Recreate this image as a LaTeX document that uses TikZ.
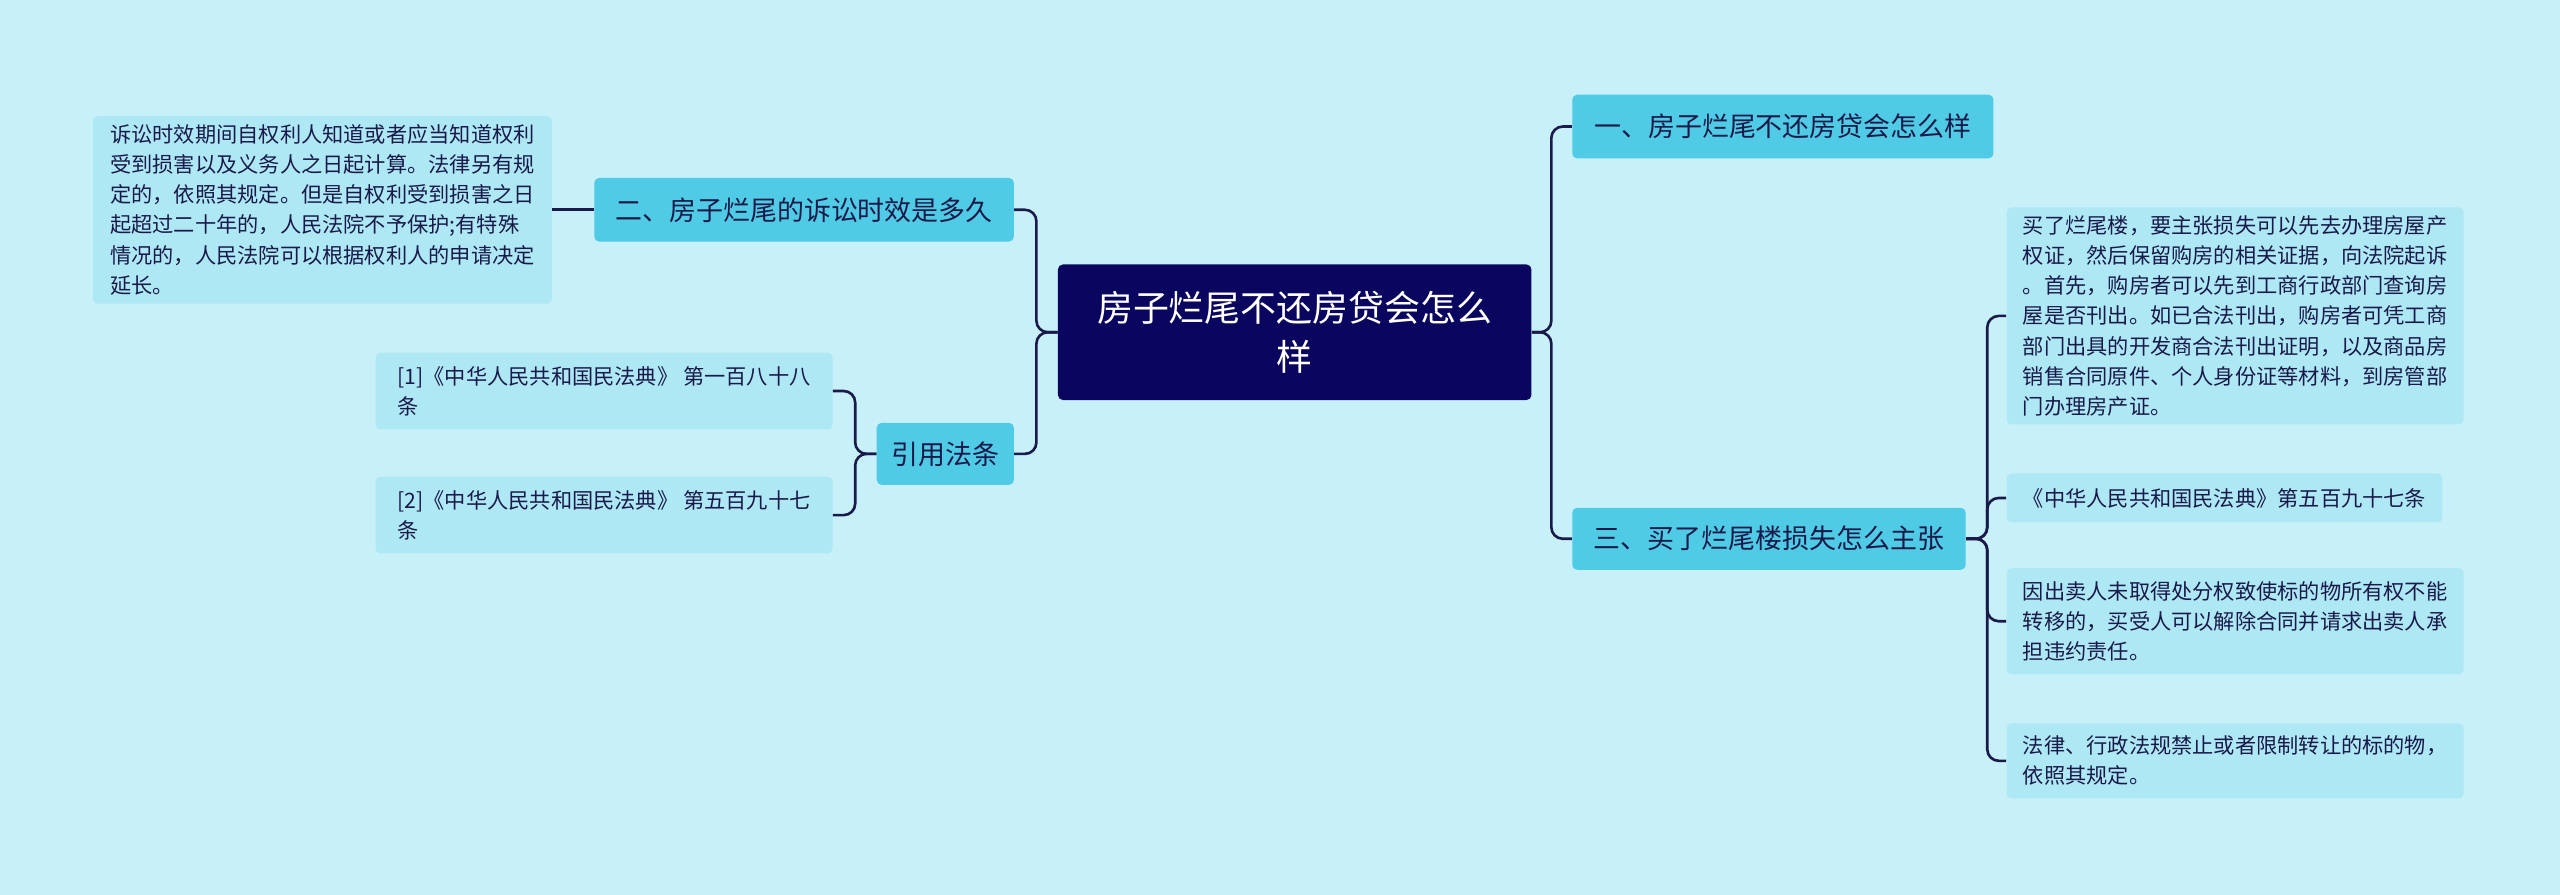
\documentclass[tikz,border=0pt]{standalone}
\usepackage{fontspec}
\setmainfont{Noto Sans CJK SC}
\definecolor{bg}{HTML}{C8F0F8}
\definecolor{navy}{HTML}{0A0660}
\definecolor{br}{HTML}{4FCBE6}
\definecolor{lf}{HTML}{AEE8F5}
\definecolor{ln}{HTML}{1A1A4A}
\begin{document}
\begin{tikzpicture}[x=1pt,y=-1pt,
 box/.style={rounded corners=3pt,inner sep=0pt,align=left},
 centerbox/.style={box,fill=navy,text=white,align=center,font=\fontsize{22}{30}\selectfont},
 branch/.style={box,fill=br,text=ln,font=\fontsize{16.5}{20}\selectfont},
 leaf/.style={box,fill=lf,text=ln,font=\fontsize{13}{18.5}\selectfont},
 conn/.style={draw=ln,line width=1.6pt,rounded corners=7pt}]
\fill[bg] (0,0) rectangle (1568,548);
\useasboundingbox (0,0) rectangle (1568,548);
\node[centerbox,minimum width=290,minimum height=83] (c) at (793,203.5) {房子烂尾不还房贷会怎么\\样};
\node[branch,minimum width=258,minimum height=39] (r1) at (1092,77.5) {一、房子烂尾不还房贷会怎么样};
\node[branch,minimum width=241,minimum height=38] (r3) at (1083.5,330) {三、买了烂尾楼损失怎么主张};
\node[branch,minimum width=257,minimum height=39] (l2) at (492.5,128.5) {二、房子烂尾的诉讼时效是多久};
\node[branch,minimum width=84,minimum height=38] (l3) at (579,278) {引用法条};
\node[leaf,minimum width=280,minimum height=133] (a1) at (1369,193.5) {买了烂尾楼，要主张损失可以先去办理房屋产\\权证，然后保留购房的相关证据，向法院起诉\\。首先，购房者可以先到工商行政部门查询房\\屋是否刊出。如已合法刊出，购房者可凭工商\\部门出具的开发商合法刊出证明，以及商品房\\销售合同原件、个人身份证等材料，到房管部\\门办理房产证。};
\node[leaf,minimum width=267,minimum height=30] (a2) at (1362.5,305) {《中华人民共和国民法典》第五百九十七条};
\node[leaf,minimum width=280,minimum height=65] (a3) at (1369,380.5) {因出卖人未取得处分权致使标的物所有权不能\\转移的，买受人可以解除合同并请求出卖人承\\担违约责任。};
\node[leaf,minimum width=280,minimum height=46] (a4) at (1369,466) {法律、行政法规禁止或者限制转让的标的物，\\依照其规定。};
\node[leaf,minimum width=281,minimum height=115] (b1) at (197.5,128.5) {诉讼时效期间自权利人知道或者应当知道权利\\受到损害以及义务人之日起计算。法律另有规\\定的，依照其规定。但是自权利受到损害之日\\起超过二十年的，人民法院不予保护;有特殊\\情况的，人民法院可以根据权利人的申请决定\\延长。};
\node[leaf,minimum width=280,minimum height=47] (b2) at (370,239.5) {[1]《中华人民共和国民法典》 第一百八十八\\条};
\node[leaf,minimum width=280,minimum height=47] (b3) at (370,315.5) {[2]《中华人民共和国民法典》 第五百九十七\\条};
\draw[conn] (c.east) -- ++(12,0) |- (r1.west);
\draw[conn] (c.east) -- ++(12,0) |- (r3.west);
\foreach \t in {a1,a2,a3,a4} \draw[conn] (r3.east) -- ++(13,0) |- (\t.west);
\draw[conn] (c.west) -- ++(-13,0) |- (l2.east);
\draw[conn] (c.west) -- ++(-13,0) |- (l3.east);
\draw[conn] (l2.west) -- (b1.east);
\foreach \t in {b2,b3} \draw[conn] (l3.west) -- ++(-13,0) |- (\t.east);
\end{tikzpicture}
\end{document}
